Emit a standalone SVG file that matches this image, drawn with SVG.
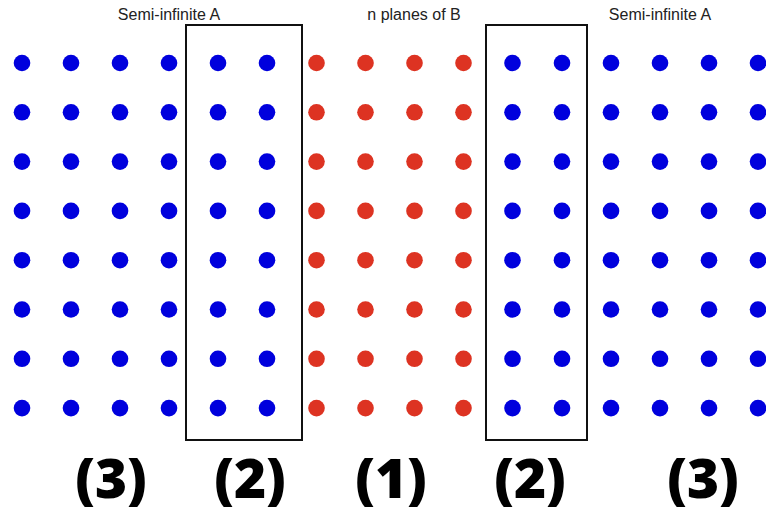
<svg xmlns="http://www.w3.org/2000/svg" width="766" height="513" viewBox="0 0 766 513">
<defs>
<style>
.a{fill:#0000dd}
.b{fill:#dd3322}
.box{fill:none;stroke:#111;stroke-width:2}
.t{font-family:"Liberation Sans",Arial,sans-serif;font-size:16px;fill:#222;text-anchor:middle}
.n{font-family:"Open Sans","Noto Sans",sans-serif;font-weight:800;font-size:55px;fill:#000;text-anchor:middle}
</style>
<g id="colA"><circle cx="0" cy="63" r="8.3"/><circle cx="0" cy="112.3" r="8.3"/><circle cx="0" cy="161.6" r="8.3"/><circle cx="0" cy="210.9" r="8.3"/><circle cx="0" cy="260.2" r="8.3"/><circle cx="0" cy="309.5" r="8.3"/><circle cx="0" cy="358.8" r="8.3"/><circle cx="0" cy="408.1" r="8.3"/></g>
</defs>
<rect width="766" height="513" fill="#fff"/>
<g id="region3-left" class="a">
<use href="#colA" x="22"/><use href="#colA" x="71"/><use href="#colA" x="120"/><use href="#colA" x="169"/>
</g>
<g id="region2-left">
<g class="a"><use href="#colA" x="218"/><use href="#colA" x="267"/></g>
<rect class="box" x="186" y="25" width="116" height="415"/>
</g>
<g id="region1" class="b">
<use href="#colA" x="316.5"/><use href="#colA" x="365.5"/><use href="#colA" x="414.5"/><use href="#colA" x="463.5"/>
</g>
<g id="region2-right">
<g class="a"><use href="#colA" x="512.5"/><use href="#colA" x="562"/></g>
<rect class="box" x="486" y="25" width="101" height="415"/>
</g>
<g id="region3-right" class="a">
<use href="#colA" x="611"/><use href="#colA" x="660"/><use href="#colA" x="709"/><use href="#colA" x="758"/>
</g>
<g id="labels">
<text class="t" x="169" y="20">Semi-infinite A</text>
<text class="t" x="414" y="20">n planes of B</text>
<text class="t" x="660" y="20">Semi-infinite A</text>
<text class="n" x="111" y="498">(3)</text>
<text class="n" x="250" y="498">(2)</text>
<text class="n" x="391" y="498">(1)</text>
<text class="n" x="530" y="498">(2)</text>
<text class="n" x="703" y="498">(3)</text>
</g>
</svg>
